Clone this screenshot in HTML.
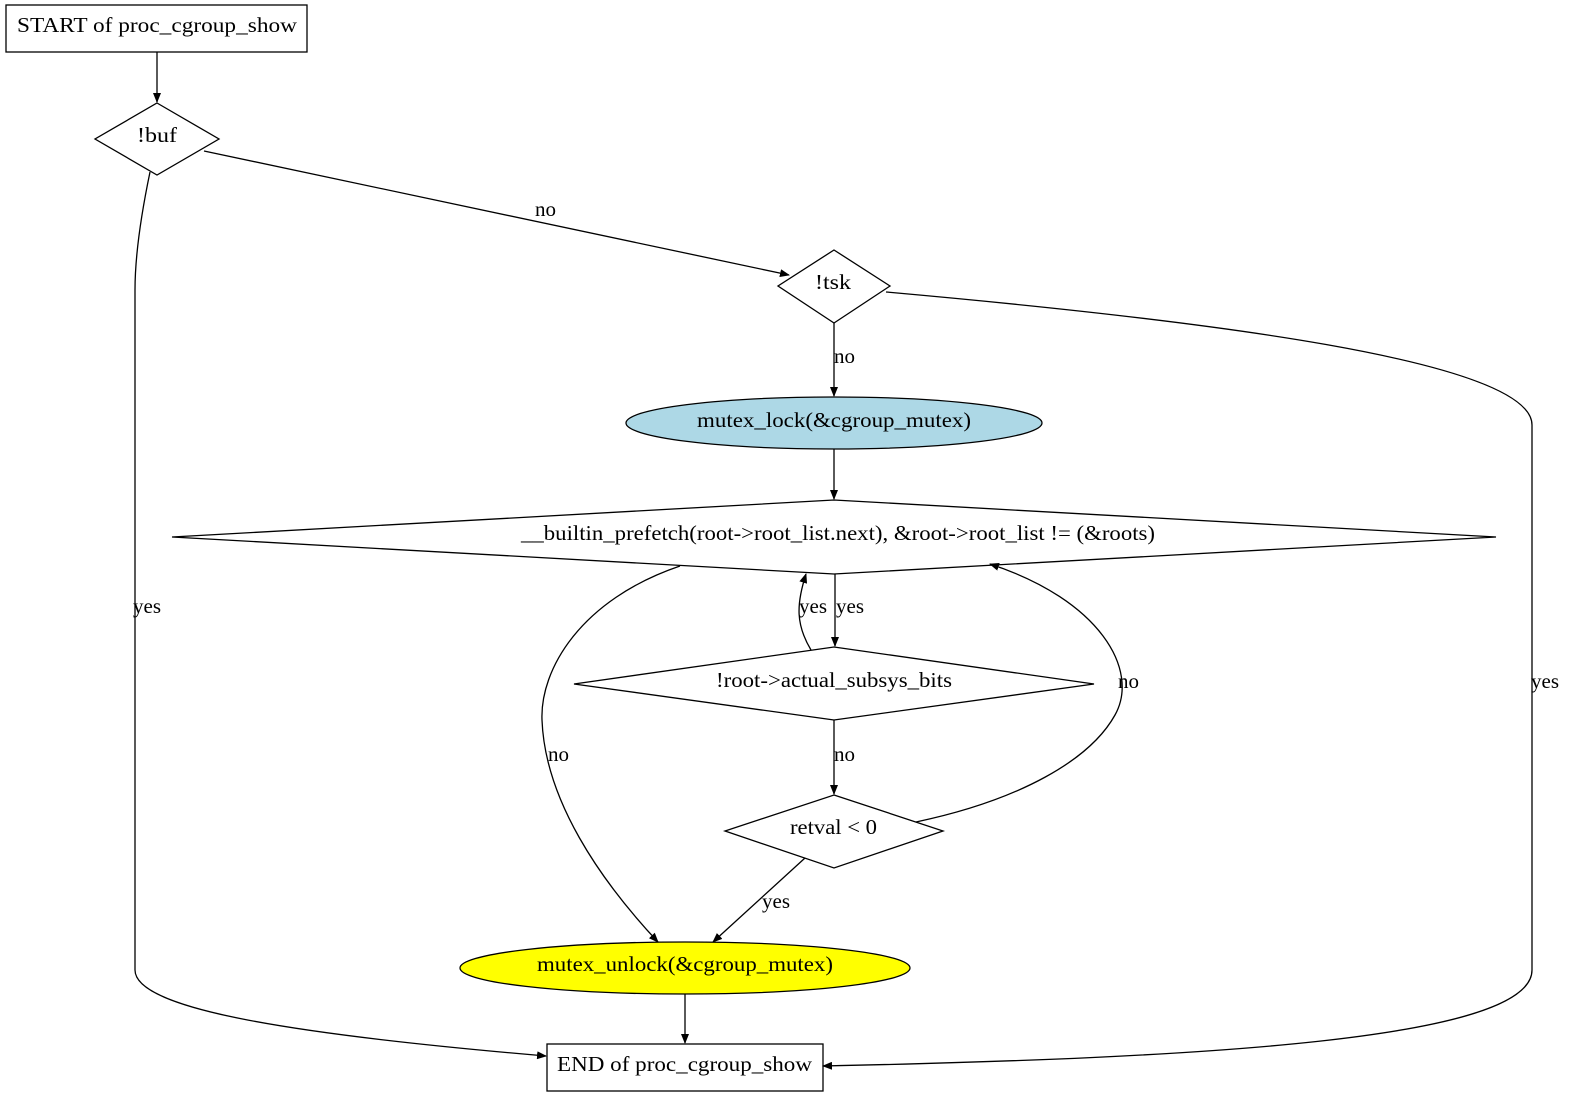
<!DOCTYPE html>
<html><head><style>html,body{margin:0;padding:0;background:#fff}svg{display:block}</style></head>
<body>
<svg width="1589" height="1112" viewBox="0 0 1589 1112" xmlns="http://www.w3.org/2000/svg" font-family="Liberation Serif, serif" font-size="21">
<defs><marker id="a" markerWidth="10" markerHeight="8" refX="9" refY="4" orient="auto" markerUnits="userSpaceOnUse"><path d="M0,0 L10,4 L0,8 z" fill="#000"/></marker></defs>
<g fill="none" stroke="#000" stroke-width="1.3">
<rect x="6" y="5" width="301" height="47" fill="#fff"/>
<polygon points="157,103 219,139 157,175 95,139" fill="#fff"/>
<polygon points="834,250 890,286 834,323 778,286" fill="#fff"/>
<ellipse cx="834" cy="423" rx="208" ry="26" fill="#add8e6"/>
<polygon points="834,500 1496,537 834,574 172,537" fill="#fff"/>
<polygon points="834,647 1094,684 834,720 574,684" fill="#fff"/>
<polygon points="834,795 943,831 834,868 725,831" fill="#fff"/>
<ellipse cx="685" cy="968" rx="225" ry="26" fill="#ffff00"/>
<rect x="547" y="1044" width="276" height="47" fill="#fff"/>
<g marker-end="url(#a)">
<path d="M157,52 L157,102"/>
<path d="M204,151 L789,275"/>
<path d="M834,323 L834,396"/>
<path d="M834,449 L834,499"/>
<path d="M835,574 L835,646"/>
<path d="M811,650 C796,625 796,605 806,574"/>
<path d="M834,720 L834,794"/>
<path d="M916,822 C1020,800 1090,760 1115,715 C1140,670 1100,600 990,564"/>
<path d="M680,566 C580,600 540,670 542,720 C545,800 600,880 658,942"/>
<path d="M805,858 L713,942"/>
<path d="M685,994 L685,1043"/>
<path d="M150,172 C140,220 135,260 135,290 L135,970 C135,1010 300,1035 546,1056"/>
<path d="M886,292 C1200,320 1532,360 1532,425 L1532,970 C1532,1040 1200,1058 823,1066"/>
</g>
</g>
<g fill="#000" lengthAdjust="spacingAndGlyphs">
<text x="17" y="32" textLength="280" lengthAdjust="spacingAndGlyphs">START of proc_cgroup_show</text>
<text x="137" y="142" textLength="40" lengthAdjust="spacingAndGlyphs">!buf</text>
<text x="815" y="289" textLength="36" lengthAdjust="spacingAndGlyphs">!tsk</text>
<text x="697" y="427" textLength="274" lengthAdjust="spacingAndGlyphs">mutex_lock(&amp;cgroup_mutex)</text>
<text x="521" y="540" textLength="634" lengthAdjust="spacingAndGlyphs">__builtin_prefetch(root-&gt;root_list.next), &amp;root-&gt;root_list != (&amp;roots)</text>
<text x="716" y="687" textLength="236" lengthAdjust="spacingAndGlyphs">!root-&gt;actual_subsys_bits</text>
<text x="790" y="834" textLength="87" lengthAdjust="spacingAndGlyphs">retval &lt; 0</text>
<text x="537" y="971" textLength="296" lengthAdjust="spacingAndGlyphs">mutex_unlock(&amp;cgroup_mutex)</text>
<text x="557" y="1071" textLength="255" lengthAdjust="spacingAndGlyphs">END of proc_cgroup_show</text>
<text x="535" y="216">no</text>
<text x="834" y="363">no</text>
<text x="799" y="613">yes</text>
<text x="836" y="613">yes</text>
<text x="1118" y="688">no</text>
<text x="834" y="761">no</text>
<text x="548" y="761">no</text>
<text x="762" y="908">yes</text>
<text x="133" y="613">yes</text>
<text x="1531" y="688">yes</text>
</g>
</svg>
</body></html>
